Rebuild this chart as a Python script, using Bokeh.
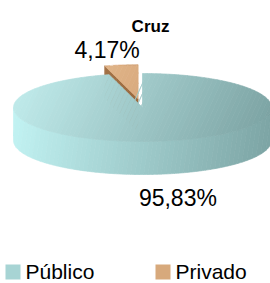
import numpy as np
from bokeh.plotting import figure
from bokeh.models import Range1d
from bokeh.core.properties import value
from bokeh.embed import file_html
from bokeh.resources import INLINE

# ---------------- data ----------------
title_text = "Cruz"
categories = ["Público", "Privado"]
values = [95.83, 4.17]
value_labels = ["95,83%", "4,17%"]
exploded = [False, True]

# ---------------- styling / layout ----------------
W, H = 270, 283
CX, CY, A, B, D = 142.0, 176.0, 129.0, 34.0, 33.0   # pie centre, semi-axes, depth (px)
EXPL = 0.26
FONT = "Liberation Sans"
top_cols = [("#bfeaea", "#79a0a0"), ("#ecc49b", "#c08a58")]
side_cols = [("#c2f3f3", "#7ca4a4"), ("#b98657", "#9a6a40")]
legend_cols = ["#a7d4d4", "#d7a97c"]

p = figure(width=W, height=H, x_range=Range1d(0, W), y_range=Range1d(0, H),
           output_backend="svg", toolbar_location=None, min_border=0)
p.axis.visible = False
p.grid.visible = False
p.outline_line_color = None
p.background_fill_color = "white"
p.border_fill_color = "white"


def hex2rgb(h):
    h = h.lstrip("#")
    return [int(h[i:i + 2], 16) for i in (0, 2, 4)]


def lerp(c0, c1, t):
    a, b = hex2rgb(c0), hex2rgb(c1)
    return "#%02x%02x%02x" % tuple(int(round(a[i] + (b[i] - a[i]) * t)) for i in range(3))


def clip_half(poly, n, c):
    out = []
    L = len(poly)
    for i in range(L):
        P, Q = poly[i], poly[(i + 1) % L]
        dp = n[0] * P[0] + n[1] * P[1] - c
        dq = n[0] * Q[0] + n[1] * Q[1] - c
        if dp >= 0:
            out.append(P)
        if (dp >= 0) != (dq >= 0):
            t = dp / (dp - dq)
            out.append((P[0] + t * (Q[0] - P[0]), P[1] + t * (Q[1] - P[1])))
    return out


def gradient_patches(poly, d, lo, hi, c0, c1, n=48):
    d = np.array(d, float)
    d = d / np.linalg.norm(d)
    xs, ys, cs = [], [], []
    for k in range(n):
        t0 = lo + (hi - lo) * k / n
        t1 = lo + (hi - lo) * (k + 1) / n
        if k == 0:
            t0 = -1e9
        if k == n - 1:
            t1 = 1e9
        piece = clip_half(poly, d, t0)
        if len(piece) < 3:
            continue
        piece = clip_half(piece, -d, -t1)
        if len(piece) < 3:
            continue
        xs.append([q[0] for q in piece])
        ys.append([q[1] for q in piece])
        cs.append(lerp(c0, c1, (k + 0.5) / n))
    if xs:
        p.patches(xs, ys, fill_color=cs, line_color=cs, line_width=0.7)


def extent(d, cx, cy):
    d = np.array(d, float)
    d = d / np.linalg.norm(d)
    th = np.linspace(0, 2 * np.pi, 361)
    pr = [d[0] * (cx + A * np.cos(t)) + d[1] * (cy + B * np.sin(t)) for t in th]
    pr += [d[0] * (cx + A * np.cos(t)) + d[1] * (cy - D + B * np.sin(t)) for t in th]
    return min(pr), max(pr)


# slice angles: start at 12 o'clock, clockwise (degrees, math convention)
total = sum(values)
slices = []
ang = 90.0
for i, v in enumerate(values):
    sweep = 360.0 * v / total
    a_hi, a_lo = ang, ang - sweep       # clockwise from a_hi to a_lo
    ang = a_lo
    mid = np.radians((a_hi + a_lo) / 2)
    if exploded[i]:
        ox, oy = A * EXPL * np.cos(mid), B * EXPL * np.sin(mid)
    else:
        ox, oy = 0.0, 0.0
    slices.append(dict(i=i, a_lo=a_lo, a_hi=a_hi, mid=mid, cx=CX + ox, cy=CY + oy))

# draw exploded (back) slices first
order = sorted(slices, key=lambda s: 0 if exploded[s["i"]] else 1)
for s in order:
    i, cx, cy = s["i"], s["cx"], s["cy"]
    lo_r, hi_r = np.radians(s["a_lo"]), np.radians(s["a_hi"])
    tc0, tc1 = top_cols[i]
    sc0, sc1 = side_cols[i]
    # radial faces (visible when their outward normal points to the front)
    for edge, nrm in ((hi_r, hi_r + np.pi / 2), (lo_r, lo_r - np.pi / 2)):
        if np.sin(nrm) < -1e-6:
            ex, ey = cx + A * np.cos(edge), cy + B * np.sin(edge)
            poly = [(cx, cy), (ex, ey), (ex, ey - D), (cx, cy - D)]
            gradient_patches(poly, (1, 0), cx - A, cx, sc0, sc1, n=12)
    # outer side wall (front half)
    th = np.linspace(lo_r, hi_r, 400)
    th_n = np.mod(th, 2 * np.pi)
    front = th[(th_n >= np.pi) & (th_n <= 2 * np.pi)]
    if len(front) > 1:
        front = np.sort(front)
        upper = [(cx + A * np.cos(t), cy + B * np.sin(t)) for t in front]
        lower = [(cx + A * np.cos(t), cy - D + B * np.sin(t)) for t in front[::-1]]
        poly = upper + lower
        lo, hi = extent((1, -0.15), cx, cy)
        gradient_patches(poly, (1, -0.15), lo, hi, sc0, sc1, n=60)
    # top face
    th = np.linspace(hi_r, lo_r, 400)
    poly = [(cx, cy)] + [(cx + A * np.cos(t), cy + B * np.sin(t)) for t in th]
    lo, hi = extent((1, -0.45), CX, CY)
    gradient_patches(poly, (1, -0.45), lo, hi, tc0, tc1, n=60)

# value labels
for s in slices:
    m = s["mid"]
    lx = CX + A * 2.1 * np.cos(m)
    ly = CY + B * 1.7 * np.sin(m) - (D if np.sin(m) < 0 else 0)
    p.text(x=[lx], y=[ly], text=[value_labels[s["i"]]], text_font=value(FONT),
           text_font_size="23px", text_color="#000000", text_align="center",
           text_baseline="middle")

# title
p.text(x=[150], y=[257], text=[title_text], text_font=value(FONT), text_font_size="17px",
       text_font_style="bold", text_color="#000000", text_align="center", text_baseline="middle")

# legend
leg_x = [5, 155]
for k, cat in enumerate(categories):
    p.rect(x=[leg_x[k] + 7.5], y=[11.5], width=15, height=15, width_units="screen",
           height_units="screen", fill_color=legend_cols[k], line_color=None)
    p.text(x=[leg_x[k] + 20], y=[1], text=[cat], text_font=value(FONT), text_font_size="21px",
           text_color="#000000", text_align="left", text_baseline="bottom")

open("out.html", "w").write(file_html(p, INLINE))
